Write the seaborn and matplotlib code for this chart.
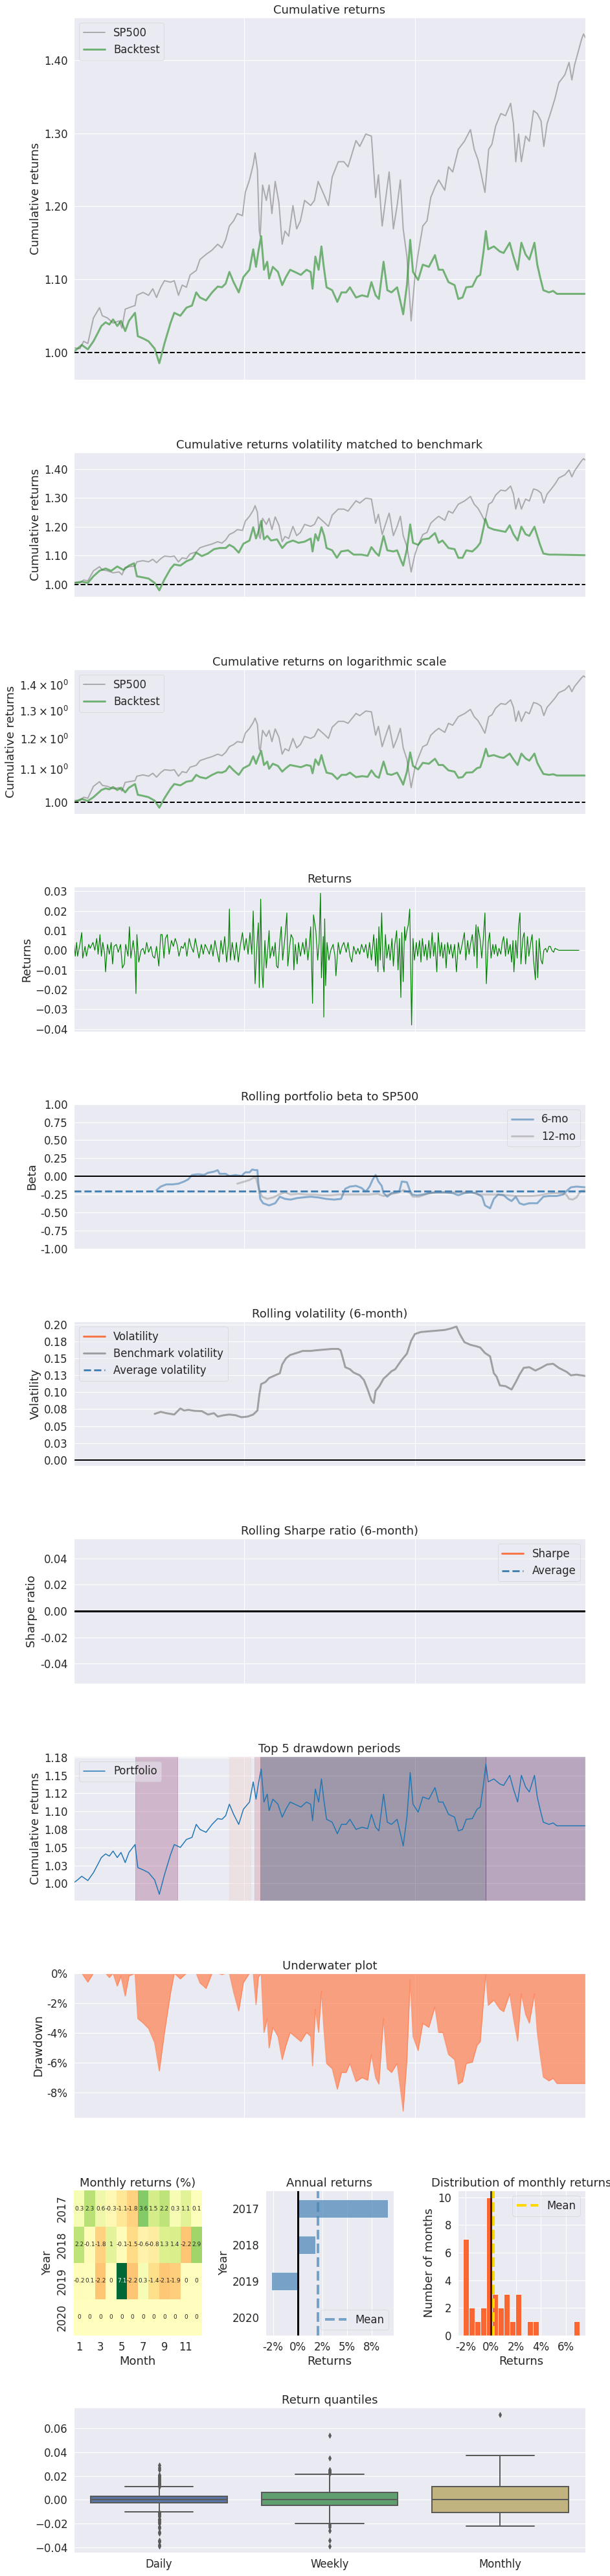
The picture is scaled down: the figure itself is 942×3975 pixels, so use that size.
"""Backtest tear sheet: cumulative returns, rolling stats, drawdowns, return distributions."""

import matplotlib

matplotlib.use("Agg")

import matplotlib.pyplot as plt
import pandas as pd
import seaborn as sns
from matplotlib import gridspec
from matplotlib.ticker import FuncFormatter, MultipleLocator

START = pd.Timestamp("2017-01-01")
END = pd.Timestamp("2020-01-01")
YEAR_TICKS = ["2018-01-01", "2019-01-01"]

sp500_days = [0, 13, 21, 30, 42, 55, 61, 72, 84, 97, 103, 110, 122, 131, 135, 148, 160, 169, 177, 186,
              194, 207, 215, 224, 232, 241, 249, 262, 270, 283, 296, 308, 317, 325, 333, 342, 350, 361, 367, 376,
              384, 388, 393, 397, 399, 404, 412, 418, 424, 431, 439, 446, 452, 460, 469, 477, 485, 494, 507, 515,
              523, 536, 545, 553, 566, 578, 587, 595, 604, 612, 625, 637, 646, 652, 660, 667, 675, 684, 692, 699,
              705, 713, 722, 730, 736, 747, 756, 764, 773, 781, 794, 802, 811, 823, 836, 849, 857, 865, 871, 880,
              888, 895, 903, 914, 924, 935, 941, 946, 952, 958, 967, 975, 984, 992, 1000, 1006, 1013, 1022, 1030, 1038,
              1051, 1060, 1066, 1072, 1081, 1087, 1091, 1095]
sp500_cum = [1.006, 1.005, 1.015, 1.012, 1.047, 1.061, 1.050, 1.047, 1.040, 1.043, 1.033, 1.059, 1.062, 1.064, 1.078, 1.082, 1.078, 1.087, 1.075, 1.089,
             1.098, 1.096, 1.098, 1.078, 1.092, 1.089, 1.106, 1.112, 1.127, 1.134, 1.140, 1.148, 1.143, 1.154, 1.173, 1.180, 1.190, 1.187, 1.219, 1.236,
             1.257, 1.273, 1.250, 1.166, 1.159, 1.229, 1.208, 1.229, 1.190, 1.234, 1.205, 1.148, 1.166, 1.159, 1.201, 1.169, 1.180, 1.208, 1.201, 1.208,
             1.234, 1.215, 1.201, 1.240, 1.261, 1.261, 1.254, 1.271, 1.290, 1.282, 1.299, 1.296, 1.212, 1.243, 1.173, 1.208, 1.247, 1.169, 1.201, 1.236,
             1.169, 1.131, 1.043, 1.103, 1.131, 1.173, 1.180, 1.212, 1.226, 1.236, 1.222, 1.254, 1.247, 1.278, 1.289, 1.305, 1.278, 1.264, 1.247, 1.219,
             1.278, 1.285, 1.310, 1.327, 1.324, 1.341, 1.313, 1.261, 1.299, 1.261, 1.296, 1.289, 1.331, 1.327, 1.317, 1.282, 1.313, 1.331, 1.348, 1.369,
             1.380, 1.397, 1.373, 1.394, 1.415, 1.429, 1.436, 1.431]

bt_days = [0, 8, 17, 30, 42, 51, 59, 68, 76, 84, 93, 101, 110, 118, 131, 137, 148, 160, 173, 183,
           194, 207, 215, 228, 241, 253, 262, 270, 283, 296, 308, 317, 325, 333, 342, 353, 363, 376, 384, 390,
           395, 401, 407, 414, 418, 426, 437, 446, 454, 463, 473, 486, 498, 507, 511, 517, 524, 530, 535, 541,
           553, 564, 573, 583, 591, 604, 617, 629, 637, 646, 653, 663, 671, 680, 692, 701, 705, 713, 720, 726,
           737, 747, 760, 773, 781, 790, 802, 815, 823, 832, 840, 853, 863, 870, 877, 882, 887, 899, 912, 920,
           933, 941, 950, 958, 967, 975, 986, 992, 998, 1005, 1017, 1026, 1034, 1095]
bt_cum = [1.001, 1.005, 1.010, 1.004, 1.015, 1.026, 1.036, 1.041, 1.038, 1.045, 1.036, 1.043, 1.029, 1.043, 1.054, 1.022, 1.019, 1.015, 1.005, 0.985,
          1.012, 1.040, 1.054, 1.050, 1.061, 1.064, 1.082, 1.075, 1.071, 1.082, 1.090, 1.089, 1.094, 1.110, 1.096, 1.082, 1.103, 1.113, 1.141, 1.117,
          1.138, 1.159, 1.113, 1.124, 1.101, 1.117, 1.110, 1.092, 1.103, 1.113, 1.110, 1.106, 1.113, 1.110, 1.087, 1.131, 1.113, 1.145, 1.117, 1.089,
          1.085, 1.069, 1.082, 1.082, 1.089, 1.075, 1.078, 1.076, 1.096, 1.078, 1.073, 1.124, 1.085, 1.082, 1.089, 1.064, 1.052, 1.092, 1.154, 1.110,
          1.099, 1.120, 1.117, 1.133, 1.113, 1.113, 1.096, 1.092, 1.073, 1.075, 1.089, 1.090, 1.103, 1.106, 1.138, 1.166, 1.141, 1.145, 1.138, 1.136,
          1.150, 1.131, 1.113, 1.150, 1.134, 1.127, 1.150, 1.120, 1.103, 1.085, 1.082, 1.084, 1.080, 1.080]

volmatch_days = [0, 17, 30, 42, 55, 68, 80, 93, 106, 118, 129, 135, 148, 160, 173, 183, 194, 207, 215, 228,
                 241, 253, 262, 274, 287, 300, 312, 325, 333, 342, 353, 363, 376, 384, 390, 395, 401, 407, 414, 422,
                 435, 446, 456, 469, 481, 494, 507, 511, 517, 523, 530, 536, 541, 553, 563, 572, 587, 599, 616, 629,
                 637, 646, 653, 663, 671, 684, 692, 701, 705, 713, 720, 726, 737, 747, 760, 773, 781, 789, 802, 815,
                 823, 832, 840, 853, 863, 870, 876, 881, 887, 899, 912, 924, 933, 941, 950, 958, 967, 975, 986, 992,
                 998, 1005, 1017, 1030, 1095]
volmatch_cum = [1.005, 1.009, 1.005, 1.028, 1.047, 1.055, 1.047, 1.062, 1.050, 1.065, 1.073, 1.028, 1.024, 1.020, 1.005, 0.979, 1.017, 1.054, 1.069, 1.065,
                1.080, 1.088, 1.110, 1.098, 1.107, 1.122, 1.126, 1.126, 1.137, 1.129, 1.110, 1.141, 1.152, 1.198, 1.159, 1.182, 1.220, 1.156, 1.168, 1.152,
                1.156, 1.126, 1.144, 1.152, 1.144, 1.148, 1.159, 1.114, 1.174, 1.152, 1.198, 1.168, 1.126, 1.118, 1.092, 1.114, 1.118, 1.103, 1.103, 1.099,
                1.129, 1.110, 1.099, 1.168, 1.118, 1.114, 1.118, 1.080, 1.065, 1.122, 1.208, 1.144, 1.137, 1.156, 1.159, 1.178, 1.144, 1.152, 1.126, 1.122,
                1.092, 1.092, 1.118, 1.114, 1.129, 1.144, 1.189, 1.227, 1.198, 1.190, 1.186, 1.182, 1.205, 1.174, 1.152, 1.200, 1.174, 1.168, 1.200, 1.168,
                1.137, 1.107, 1.103, 1.103, 1.101]

# (day, daily return) pairs
daily_returns = [
    (0, .005), (3, -.003), (6, .004), (8, -.003), (13, .003), (17, .009), (19, -.004), (24, .002), (27, -.003), (32, .003),
    (35, .001), (41, .004), (45, .000), (49, .006), (52, -.002), (56, .008), (59, -.003), (62, .004), (66, -.002), (68, -.011),
    (72, .003), (76, -.002), (80, .004), (83, -.007), (86, .002), (91, .003), (95, -.001), (100, .003), (104, -.009), (108, -.007),
    (111, .003), (116, -.003), (119, .012), (122, -.004), (127, .005), (131, -.003), (133, -.022), (135, .008), (139, -.006), (144, .000),
    (148, .001), (152, -.002), (156, .004), (160, -.001), (165, .002), (169, -.003), (173, -.004), (177, .002), (182, -.008), (186, .008),
    (189, .008), (193, -.004), (196, .006), (200, .008), (204, -.002), (209, .005), (213, .002), (217, .006), (221, .003), (225, -.003),
    (230, .002), (234, .001), (238, .004), (242, -.003), (247, .006), (251, .002), (256, -.001), (260, .006), (264, .001), (268, -.004),
    (273, .003), (277, -.002), (281, .003), (285, .001), (290, -.002), (294, .003), (298, -.003), (302, .005), (306, .000), (311, -.006),
    (315, .005), (319, -.002), (323, .007), (327, -.006), (331, .003), (333, .021), (335, -.005), (339, .004), (344, -.005), (348, .004),
    (352, -.006), (356, .002), (361, .009), (365, .000), (369, .006), (373, -.002), (377, .009), (381, -.002), (384, .020), (388, -.017),
    (392, .003), (395, .014), (397, -.019), (400, .026), (403, -.012), (405, -.019), (409, .005), (412, -.009), (415, .000), (418, .010),
    (420, -.004), (425, .002), (428, -.003), (431, .004), (434, -.008), (437, -.009), (441, .005), (444, .012), (447, -.005), (452, .007),
    (456, .019), (458, -.008), (462, .002), (465, .008), (469, .006), (471, -.010), (474, .003), (478, -.007), (481, .004), (485, -.003),
    (490, .004), (494, -.002), (497, .006), (501, -.005), (504, .002), (507, .012), (511, -.027), (513, .018), (518, .010), (522, -.005),
    (525, .004), (528, .029), (530, -.014), (534, .007), (535, -.034), (537, .016), (539, -.018), (542, .004), (546, -.005), (550, .000),
    (555, .003), (559, -.003), (561, -.013), (566, .004), (570, -.002), (574, .002), (578, .004), (583, -.001), (587, .004), (591, -.003),
    (595, -.006), (599, .002), (604, -.002), (608, .001), (612, -.002), (616, .003), (621, -.001), (625, .003), (629, -.004), (633, .004),
    (637, -.005), (642, .008), (646, -.008), (648, .006), (651, -.011), (653, .012), (656, -.005), (659, .019), (662, -.008), (664, -.011),
    (667, .008), (670, -.004), (674, .003), (677, -.005), (681, .006), (684, -.008), (687, .003), (691, .010), (694, -.010), (697, .006),
    (700, -.024), (702, .009), (705, -.016), (708, .012), (710, .005), (713, .010), (716, .013), (719, .021), (723, -.038), (726, .006),
    (729, -.005), (733, .004), (736, -.003), (740, .005), (743, -.006), (746, .006), (750, -.003), (753, .003), (756, -.005), (760, .005),
    (763, -.004), (767, .009), (770, -.003), (773, .004), (777, -.011), (780, .009), (784, -.003), (787, .004), (790, -.004), (794, .003),
    (797, -.009), (800, .004), (804, -.002), (807, .003), (811, -.004), (815, .003), (819, -.011), (823, .004), (827, -.002), (832, .004),
    (836, .009), (839, -.005), (843, .005), (846, -.002), (849, .003), (853, .008), (857, -.003), (861, .013), (863, -.009), (865, .012),
    (870, .005), (873, -.004), (876, .004), (880, .019), (883, -.017), (887, .004), (890, .009), (893, -.004), (897, .003), (900, -.002),
    (903, .003), (907, -.003), (910, .001), (914, -.002), (917, .004), (920, .007), (924, -.003), (927, .006), (930, -.002), (934, .003),
    (937, -.006), (940, .005), (942, -.011), (946, .005), (949, -.004), (952, .012), (955, .019), (957, -.007), (961, .006), (964, .009),
    (967, -.007), (971, .007), (974, -.003), (978, .004), (981, .008), (984, -.005), (988, -.015), (990, .005), (993, -.014), (996, .006),
    (1000, -.005), (1003, -.007), (1006, .000), (1010, .001), (1013, -.001), (1017, .002), (1020, .002), (1023, .000), (1027, -.001),
    (1030, .001), (1038, .000), (1081, .000),
]

beta6_days = [177, 186, 198, 211, 224, 236, 245, 253, 266, 279, 287, 300, 308, 312, 325, 333, 346, 359, 367, 376,
              382, 388, 393, 395, 399, 405, 418, 431, 441, 452, 464, 477, 490, 507, 523, 540, 557, 572, 581, 591,
              604, 616, 625, 633, 640, 646, 652, 659, 663, 671, 680, 688, 697, 702, 713, 719, 724, 735, 747, 760,
              777, 794, 811, 823, 836, 849, 861, 874, 880, 891, 899, 908, 920, 929, 937, 946, 954, 963, 975, 992,
              1005, 1017, 1034, 1047, 1055, 1064, 1076, 1095]
beta6 = [-0.19, -0.14, -0.11, -0.11, -0.10, -0.07, -0.04, 0.02, 0.03, 0.02, 0.05, 0.066, 0.087, 0.036, 0.036, 0.006, 0.02, 0.006, 0.057, 0.057,
         0.096, 0.087, 0.087, -0.10, -0.31, -0.37, -0.40, -0.37, -0.28, -0.31, -0.32, -0.30, -0.29, -0.28, -0.29, -0.31, -0.32, -0.31, -0.17, -0.14,
         -0.13, -0.16, -0.21, -0.14, -0.04, 0.02, -0.07, -0.13, -0.23, -0.28, -0.23, -0.22, -0.20, -0.07, -0.08, -0.19, -0.25, -0.26, -0.25, -0.23,
         -0.22, -0.22, -0.23, -0.26, -0.23, -0.22, -0.23, -0.28, -0.40, -0.44, -0.31, -0.25, -0.26, -0.31, -0.34, -0.28, -0.37, -0.39, -0.37, -0.37,
         -0.28, -0.27, -0.27, -0.25, -0.20, -0.15, -0.14, -0.15]
beta12_days = [350, 363, 376, 384, 390, 397, 403, 414, 427, 439, 452, 464, 481, 498, 515, 532, 549, 566, 583, 599,
               616, 633, 650, 663, 675, 692, 705, 718, 726, 739, 752, 768, 785, 802, 819, 836, 853, 865, 878, 895,
               912, 929, 946, 963, 980, 997, 1013, 1030, 1043, 1054, 1060, 1068, 1076, 1085, 1095]
beta12 = [-0.10, -0.075, -0.05, -0.02, -0.02, -0.19, -0.28, -0.31, -0.29, -0.25, -0.22, -0.25, -0.24, -0.25, -0.25, -0.26, -0.26, -0.25, -0.25, -0.25,
          -0.25, -0.25, -0.24, -0.27, -0.25, -0.23, -0.19, -0.22, -0.28, -0.28, -0.25, -0.22, -0.22, -0.22, -0.22, -0.22, -0.22, -0.25, -0.25, -0.25,
          -0.25, -0.26, -0.27, -0.27, -0.27, -0.26, -0.24, -0.23, -0.23, -0.25, -0.31, -0.32, -0.29, -0.20, -0.19]
beta_mean = -0.20

bench_vol_days = [173, 186, 198, 215, 228, 236, 245, 258, 274, 287, 300, 308, 321, 333, 346, 359, 372, 384, 393, 397,
                  401, 410, 418, 431, 441, 446, 454, 463, 477, 490, 507, 519, 536, 553, 566, 571, 576, 581, 591, 599,
                  612, 621, 629, 637, 642, 646, 654, 663, 671, 680, 688, 701, 713, 722, 730, 743, 760, 777, 794, 806,
                  819, 826, 836, 849, 861, 870, 880, 891, 899, 905, 912, 924, 937, 946, 954, 963, 975, 988, 1000, 1013,
                  1026, 1038, 1055, 1064, 1076, 1095]
bench_vol = [0.068, 0.071, 0.069, 0.067, 0.076, 0.073, 0.074, 0.0725, 0.072, 0.067, 0.069, 0.064, 0.066, 0.067, 0.066, 0.063, 0.064, 0.067, 0.073, 0.096,
             0.112, 0.115, 0.121, 0.125, 0.128, 0.141, 0.150, 0.155, 0.158, 0.161, 0.161, 0.162, 0.163, 0.164, 0.164, 0.162, 0.150, 0.137, 0.134, 0.129,
             0.125, 0.118, 0.104, 0.088, 0.084, 0.102, 0.109, 0.120, 0.125, 0.131, 0.134, 0.147, 0.157, 0.176, 0.186, 0.189, 0.190, 0.191, 0.192, 0.194,
             0.197, 0.186, 0.174, 0.170, 0.168, 0.166, 0.158, 0.153, 0.128, 0.123, 0.110, 0.109, 0.104, 0.115, 0.126, 0.136, 0.137, 0.132, 0.136, 0.141,
             0.142, 0.136, 0.130, 0.125, 0.126, 0.124]
vol_ticks = [0.0, 0.025, 0.05, 0.075, 0.10, 0.125, 0.15, 0.175, 0.20]
vol_labels = ["0.00", "0.03", "0.05", "0.08", "0.10", "0.13", "0.15", "0.18", "0.20"]

# top 5 drawdowns, deepest first: (peak day, recovery day)
dd_start_days = [399, 882, 131, 387, 333]
dd_end_days = [882, 1095, 222, 399, 378]
dd_ticks = [1.0, 1.025, 1.05, 1.075, 1.10, 1.125, 1.15, 1.175]
dd_labels = ["1.00", "1.03", "1.05", "1.08", "1.10", "1.12", "1.15", "1.18"]

# monthly returns in percent
years = [2017, 2018, 2019, 2020]
months = list(range(1, 13))
monthly_2017 = [0.3, 2.3, 0.6, -0.3, -1.1, -1.8, 3.6, 1.54, 2.2, 0.3, 1.1, 0.1]
monthly_2018 = [2.2, -0.1, -1.8, 1.0, -0.1, -1.5, -0.6, -0.8, 1.3, 1.4, -2.2, 2.94]
monthly_2019 = [-0.2, 0.1, -2.2, 0.0, 7.1, -2.2, 0.3, -1.4, -2.1, -1.9, 0.0, 0.0]
monthly_2020 = [0.0]

annual_returns = [9.15, 1.77, -2.66, 0.0]

# return quantile box statistics
quantile_names = ["Daily", "Weekly", "Monthly"]
quantile_colors = ["#4c72B0", "#55A868", "#CCB974"]
q_low = [-0.0027, -0.0047, -0.0108]
q_med = [0.0003, 0.0004, 0.0003]
q_high = [0.0031, 0.0060, 0.0108]
whisk_low = [-0.0102, -0.0201, -0.0223]
whisk_high = [0.0108, 0.0217, 0.037]
outliers = [
    [0.029, 0.027, 0.025, 0.021, 0.020, 0.019, 0.018, 0.017, 0.016, 0.015, 0.014, 0.013, 0.012, 0.011,
     -0.011, -0.012, -0.013, -0.014, -0.016, -0.017, -0.018, -0.019, -0.020, -0.023, -0.024, -0.027,
     -0.028, -0.034, -0.035, -0.038, -0.039],
    [0.054, 0.035, 0.025, 0.024, 0.023, 0.022, -0.021, -0.023, -0.026, -0.034, -0.039],
    [0.0718],
]


def to_dates(days):
    return START + pd.to_timedelta(days, unit="D")


two_dec = FuncFormatter(lambda v, _: "%.2f" % v)
percent = FuncFormatter(lambda v, _: "%.0f%%" % v)


def time_axis(ax):
    ax.set_xlim(START, END)
    ax.set_xticks(pd.to_datetime(YEAR_TICKS))
    ax.set_xticklabels([])
    ax.set_xlabel("")


def legend(ax, loc):
    ax.legend(loc=loc, frameon=True, framealpha=0.5)


sns.set_theme(style="darkgrid", context="notebook", font_scale=1.5)
plt.rcParams["font.family"] = ["DejaVu Sans"]

fig = plt.figure(figsize=(942 / 72, 3975 / 72), dpi=72)
gs = gridspec.GridSpec(12, 3, figure=fig, left=114 / 942, right=904 / 942,
                       top=1 - 27 / 3975, bottom=1 - 3939 / 3975, wspace=0.5, hspace=0.5)

sp_dates = to_dates(sp500_days)
bt_dates = to_dates(bt_days)

# cumulative returns
ax = fig.add_subplot(gs[:2, :])
sns.lineplot(x=sp_dates, y=sp500_cum, ax=ax, color="gray", lw=2, alpha=0.6, label="SP500")
sns.lineplot(x=bt_dates, y=bt_cum, ax=ax, color="forestgreen", lw=3, alpha=0.6, label="Backtest")
ax.axhline(1.0, ls="--", color="black", lw=2)
ax.yaxis.set_major_locator(MultipleLocator(0.1))
ax.yaxis.set_major_formatter(two_dec)
ax.set_title("Cumulative returns")
ax.set_ylabel("Cumulative returns")
legend(ax, "upper left")
time_axis(ax)

# volatility matched
ax = fig.add_subplot(gs[2, :])
sns.lineplot(x=sp_dates, y=sp500_cum, ax=ax, color="gray", lw=2, alpha=0.6)
sns.lineplot(x=to_dates(volmatch_days), y=volmatch_cum, ax=ax, color="forestgreen", lw=3, alpha=0.6)
ax.axhline(1.0, ls="--", color="black", lw=2)
ax.yaxis.set_major_locator(MultipleLocator(0.1))
ax.yaxis.set_major_formatter(two_dec)
ax.set_title("Cumulative returns volatility matched to benchmark")
ax.set_ylabel("Cumulative returns")
time_axis(ax)

# log scale
ax = fig.add_subplot(gs[3, :])
sns.lineplot(x=sp_dates, y=sp500_cum, ax=ax, color="gray", lw=2, alpha=0.6, label="SP500")
sns.lineplot(x=bt_dates, y=bt_cum, ax=ax, color="forestgreen", lw=3, alpha=0.6, label="Backtest")
ax.axhline(1.0, ls="--", color="black", lw=2)
ax.set_yscale("log")
ax.yaxis.set_major_formatter(two_dec)
ax.set_title("Cumulative returns on logarithmic scale")
ax.set_ylabel("Cumulative returns")
legend(ax, "upper left")
time_axis(ax)

# daily returns
ax = fig.add_subplot(gs[4, :])
ret_days, ret_vals = zip(*daily_returns)
sns.lineplot(x=to_dates(list(ret_days)), y=list(ret_vals), ax=ax, color="green", lw=1.2)
ax.yaxis.set_major_locator(MultipleLocator(0.01))
ax.set_title("Returns")
ax.set_ylabel("Returns")
time_axis(ax)

# rolling beta
ax = fig.add_subplot(gs[5, :])
sns.lineplot(x=to_dates(beta6_days), y=beta6, ax=ax, color="steelblue", lw=3, alpha=0.6, label="6-mo")
sns.lineplot(x=to_dates(beta12_days), y=beta12, ax=ax, color="grey", lw=3, alpha=0.4, label="12-mo")
ax.axhline(beta_mean, color="steelblue", ls="--", lw=3)
ax.axhline(0.0, color="black", lw=2)
ax.set_ylim(-1.0, 1.0)
ax.yaxis.set_major_locator(MultipleLocator(0.25))
ax.yaxis.set_major_formatter(two_dec)
ax.set_title("Rolling portfolio beta to SP500")
ax.set_ylabel("Beta")
legend(ax, "upper right")
time_axis(ax)

# rolling volatility
ax = fig.add_subplot(gs[6, :])
ax.plot([], [], color="orangered", lw=3, alpha=0.7, label="Volatility")
sns.lineplot(x=to_dates(bench_vol_days), y=bench_vol, ax=ax, color="grey", lw=3, alpha=0.7,
             label="Benchmark volatility")
ax.plot([], [], color="steelblue", ls="--", lw=3, label="Average volatility")
ax.axhline(0.0, color="black", lw=2)
ax.set_yticks(vol_ticks)
ax.set_yticklabels(vol_labels)
ax.set_ylim(-0.0093, 0.2048)
ax.set_title("Rolling volatility (6-month)")
ax.set_ylabel("Volatility")
legend(ax, "upper left")
time_axis(ax)

# rolling sharpe (no values in the window)
ax = fig.add_subplot(gs[7, :])
ax.plot([], [], color="orangered", lw=3, alpha=0.7, label="Sharpe")
ax.plot([], [], color="steelblue", ls="--", lw=3, label="Average")
ax.axhline(0.0, color="black", lw=3)
ax.set_ylim(-0.055, 0.055)
ax.yaxis.set_major_locator(MultipleLocator(0.02))
ax.yaxis.set_major_formatter(two_dec)
ax.set_title("Rolling Sharpe ratio (6-month)")
ax.set_ylabel("Sharpe ratio")
legend(ax, "upper right")
time_axis(ax)

# top drawdown periods
ax = fig.add_subplot(gs[8, :])
sns.lineplot(x=bt_dates, y=bt_cum, ax=ax, color="#1f77b4", lw=1.5, label="Portfolio")
span_colors = sns.cubehelix_palette(len(dd_start_days))[::-1]
for start, end, col in zip(to_dates(dd_start_days), to_dates(dd_end_days), span_colors):
    ax.axvspan(start, end, alpha=0.4, color=col)
ax.set_yticks(dd_ticks)
ax.set_yticklabels(dd_labels)
ax.set_ylim(0.976, 1.177)
ax.set_title("Top 5 drawdown periods")
ax.set_ylabel("Cumulative returns")
legend(ax, "upper left")
time_axis(ax)

# underwater
ax = fig.add_subplot(gs[9, :])
bt = pd.Series(bt_cum, index=bt_dates)
underwater = -100 * (bt.cummax() - bt) / bt.cummax()
ax.fill_between(underwater.index, underwater.values, 0, color="coral", alpha=0.7, lw=0)
sns.lineplot(x=underwater.index, y=underwater.values, ax=ax, color="coral", lw=1.5, alpha=0.7)
ax.set_ylim(underwater.min() * 1.05, 0)
ax.yaxis.set_major_locator(MultipleLocator(2))
ax.yaxis.set_major_formatter(percent)
ax.set_title("Underwater plot")
ax.set_ylabel("Drawdown")
time_axis(ax)

# monthly heatmap
ax = fig.add_subplot(gs[10, 0])
table = pd.DataFrame([monthly_2017, monthly_2018, monthly_2019,
                      monthly_2020 + [float("nan")] * (12 - len(monthly_2020))],
                     index=years, columns=months)
sns.heatmap(table.fillna(0), annot=True, annot_kws={"size": 9}, alpha=1.0, center=0.0,
            cbar=False, cmap="RdYlGn", xticklabels=2, ax=ax)
plt.setp(ax.get_yticklabels(), rotation=90, va="center")
plt.setp(ax.get_xticklabels(), rotation=0)
ax.set_title("Monthly returns (%)")
ax.set_ylabel("Year")
ax.set_xlabel("Month")

# annual returns
ax = fig.add_subplot(gs[10, 1])
sns.barplot(x=annual_returns, y=[str(y) for y in years], orient="h", color="steelblue",
            saturation=1, alpha=0.7, width=0.5, ax=ax)
mean_annual = sum(annual_returns) / len(annual_returns)
ax.axvline(mean_annual, color="steelblue", ls="--", lw=4, alpha=0.7, label="Mean")
ax.axvline(0.0, color="black", lw=3)
ax.set_xlim(-3.25, 9.75)
ax.xaxis.set_major_locator(MultipleLocator(2.5))
ax.xaxis.set_major_formatter(percent)
ax.set_title("Annual returns")
ax.set_ylabel("Year")
ax.set_xlabel("Returns")
legend(ax, "lower right")

# monthly distribution
ax = fig.add_subplot(gs[10, 2])
all_months = monthly_2017 + monthly_2018 + monthly_2019 + monthly_2020
sns.histplot(x=all_months, bins=20, color="orangered", alpha=0.8, edgecolor="white",
             linewidth=0.8, ax=ax)
ax.axvline(sum(all_months) / len(all_months), color="gold", ls="--", lw=4, alpha=1.0, label="Mean")
ax.axvline(0.0, color="black", lw=3, alpha=0.75)
ax.xaxis.set_major_locator(MultipleLocator(2))
ax.xaxis.set_major_formatter(percent)
ax.set_title("Distribution of monthly returns")
ax.set_ylabel("Number of months")
ax.set_xlabel("Returns")
legend(ax, "upper right")

# return quantiles
ax = fig.add_subplot(gs[11, :])
stats = [dict(label=n, q1=a, med=m, q3=b, whislo=lo, whishi=hi, fliers=f)
         for n, a, m, b, lo, hi, f in zip(quantile_names, q_low, q_med, q_high,
                                         whisk_low, whisk_high, outliers)]
line_gray = "#5a5a5a"
boxes = ax.bxp(stats, positions=[0, 1, 2], widths=0.8, patch_artist=True,
               boxprops=dict(edgecolor=line_gray, linewidth=2),
               medianprops=dict(color=line_gray, linewidth=2),
               whiskerprops=dict(color=line_gray, linewidth=2),
               capprops=dict(color=line_gray, linewidth=2),
               flierprops=dict(marker="d", markerfacecolor=line_gray,
                               markeredgecolor=line_gray, markersize=5))
for patch, col in zip(boxes["boxes"], quantile_colors):
    patch.set_facecolor(sns.desaturate(col, 0.75))
ax.set_xlim(-0.5, 2.5)
ax.yaxis.set_major_locator(MultipleLocator(0.02))
ax.xaxis.grid(False)
ax.set_title("Return quantiles")

fig.savefig("out.png", dpi=72)
